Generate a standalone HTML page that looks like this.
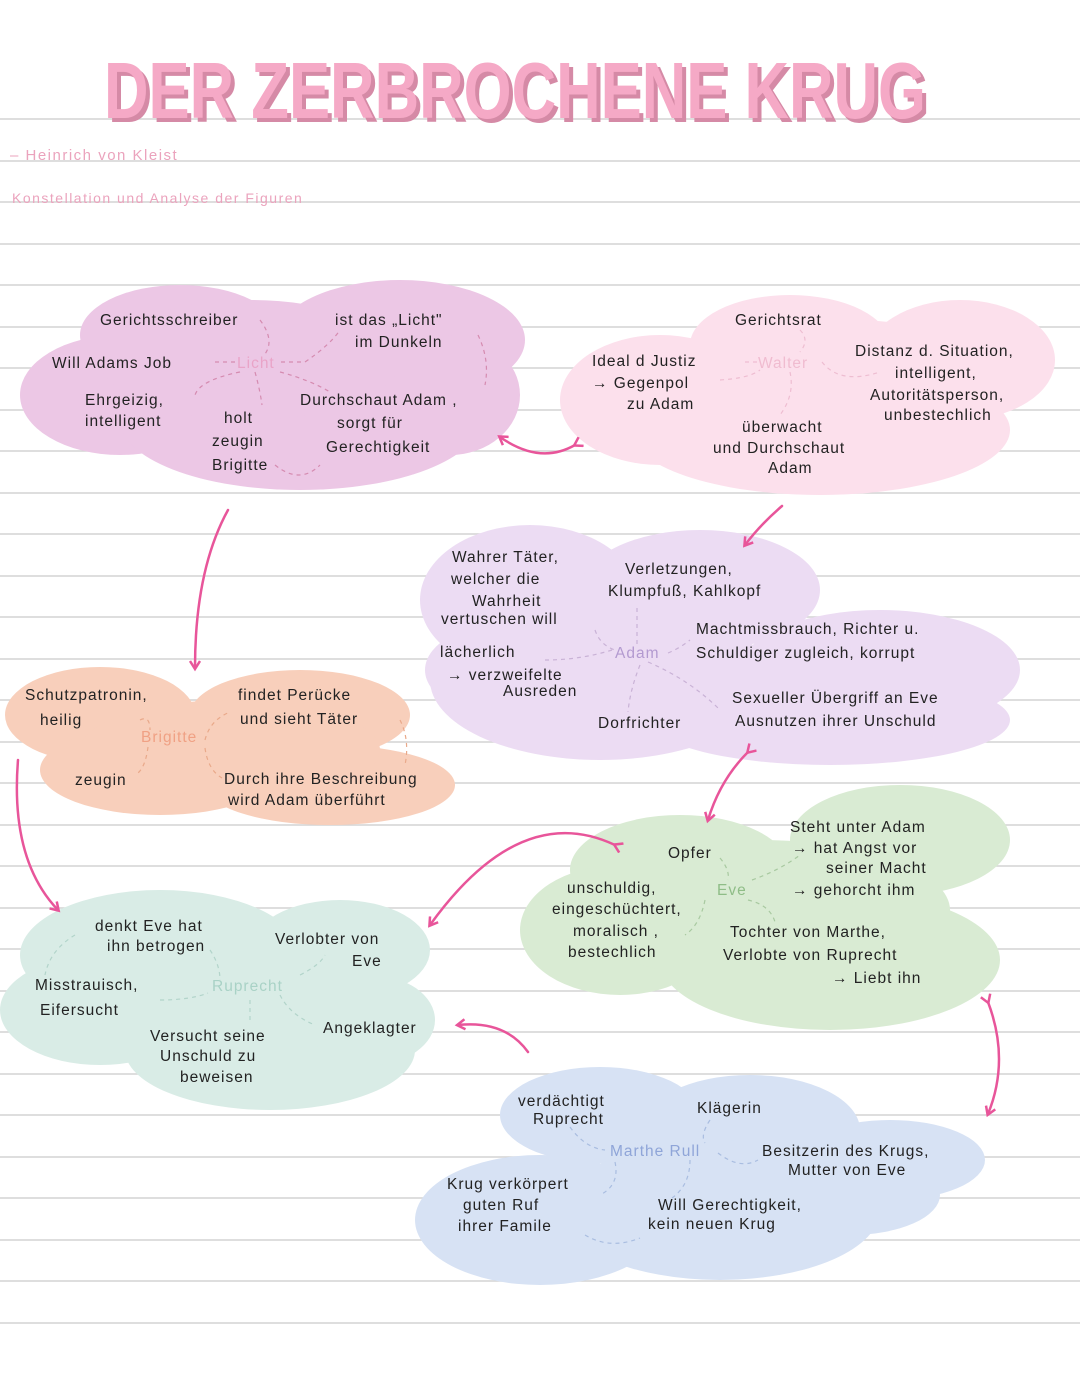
<!DOCTYPE html>
<html><head><meta charset="utf-8"><style>
html,body{margin:0;padding:0;background:#fff}
svg{display:block}
text{font-family:"Liberation Sans",sans-serif;font-size:15.5px;fill:#222;letter-spacing:1px}
</style></head><body>
<svg width="1080" height="1395" viewBox="0 0 1080 1395" xmlns="http://www.w3.org/2000/svg">
<defs>
<marker id="ah" markerWidth="12" markerHeight="12" refX="8" refY="6" orient="auto" markerUnits="userSpaceOnUse">
<path d="M1,1 L9,6 L1,11" fill="none" stroke="#e8559a" stroke-width="2.5"/>
</marker>
</defs>
<g stroke="#d4d4d4" stroke-width="1.5">
<line x1="0" x2="1080" y1="119" y2="119"/><line x1="0" x2="1080" y1="161" y2="161"/><line x1="0" x2="1080" y1="202" y2="202"/><line x1="0" x2="1080" y1="244" y2="244"/><line x1="0" x2="1080" y1="285" y2="285"/><line x1="0" x2="1080" y1="327" y2="327"/><line x1="0" x2="1080" y1="368" y2="368"/><line x1="0" x2="1080" y1="410" y2="410"/><line x1="0" x2="1080" y1="451" y2="451"/><line x1="0" x2="1080" y1="493" y2="493"/><line x1="0" x2="1080" y1="534" y2="534"/><line x1="0" x2="1080" y1="576" y2="576"/><line x1="0" x2="1080" y1="617" y2="617"/><line x1="0" x2="1080" y1="659" y2="659"/><line x1="0" x2="1080" y1="700" y2="700"/><line x1="0" x2="1080" y1="742" y2="742"/><line x1="0" x2="1080" y1="783" y2="783"/><line x1="0" x2="1080" y1="825" y2="825"/><line x1="0" x2="1080" y1="866" y2="866"/><line x1="0" x2="1080" y1="908" y2="908"/><line x1="0" x2="1080" y1="949" y2="949"/><line x1="0" x2="1080" y1="991" y2="991"/><line x1="0" x2="1080" y1="1032" y2="1032"/><line x1="0" x2="1080" y1="1074" y2="1074"/><line x1="0" x2="1080" y1="1115" y2="1115"/><line x1="0" x2="1080" y1="1157" y2="1157"/><line x1="0" x2="1080" y1="1198" y2="1198"/><line x1="0" x2="1080" y1="1240" y2="1240"/><line x1="0" x2="1080" y1="1281" y2="1281"/><line x1="0" x2="1080" y1="1323" y2="1323"/>
</g>
<text x="108" y="122" textLength="822" lengthAdjust="spacingAndGlyphs" style="font-size:80px;font-weight:bold;letter-spacing:0;fill:#d58aa6">DER ZERBROCHENE KRUG</text>
<text x="104" y="118" textLength="822" lengthAdjust="spacingAndGlyphs" style="font-size:80px;font-weight:bold;letter-spacing:0;fill:#f5a9c6">DER ZERBROCHENE KRUG</text>
<text x="10" y="160" style="fill:#eba3bd;font-size:15px;letter-spacing:1.5px">– Heinrich  von  Kleist</text>
<text x="12" y="203" style="fill:#eba3bd;font-size:14px;letter-spacing:1.5px">Konstellation  und  Analyse  der  Figuren</text>

<g fill="#ecc7e5">
<ellipse cx="180" cy="335" rx="100" ry="50"/><ellipse cx="400" cy="340" rx="125" ry="60"/><ellipse cx="120" cy="395" rx="100" ry="60"/><ellipse cx="300" cy="420" rx="180" ry="70"/><ellipse cx="450" cy="395" rx="70" ry="60"/><ellipse cx="250" cy="360" rx="150" ry="60"/>
</g>
<g fill="#fce0ec">
<ellipse cx="790" cy="345" rx="100" ry="50"/><ellipse cx="960" cy="360" rx="95" ry="60"/><ellipse cx="660" cy="400" rx="100" ry="65"/><ellipse cx="820" cy="430" rx="190" ry="65"/><ellipse cx="850" cy="380" rx="150" ry="60"/>
</g>
<g fill="#ecdcf3">
<ellipse cx="530" cy="600" rx="110" ry="75"/><ellipse cx="700" cy="590" rx="120" ry="60"/><ellipse cx="600" cy="680" rx="170" ry="80"/><ellipse cx="880" cy="670" rx="140" ry="60"/><ellipse cx="830" cy="720" rx="180" ry="45"/><ellipse cx="520" cy="670" rx="95" ry="50"/>
</g>
<g fill="#f8cfbb">
<ellipse cx="100" cy="715" rx="95" ry="48"/><ellipse cx="300" cy="715" rx="110" ry="45"/><ellipse cx="160" cy="770" rx="120" ry="45"/><ellipse cx="330" cy="785" rx="125" ry="40"/><ellipse cx="230" cy="750" rx="150" ry="50"/>
</g>
<g fill="#d9ece6">
<ellipse cx="160" cy="955" rx="140" ry="65"/><ellipse cx="340" cy="950" rx="90" ry="50"/><ellipse cx="100" cy="1010" rx="100" ry="55"/><ellipse cx="270" cy="1050" rx="145" ry="60"/><ellipse cx="370" cy="1020" rx="65" ry="45"/><ellipse cx="220" cy="990" rx="180" ry="60"/>
</g>
<g fill="#d9ebd3">
<ellipse cx="680" cy="870" rx="110" ry="55"/><ellipse cx="900" cy="840" rx="110" ry="55"/><ellipse cx="620" cy="930" rx="100" ry="65"/><ellipse cx="830" cy="960" rx="170" ry="70"/><ellipse cx="760" cy="910" rx="190" ry="70"/>
</g>
<g fill="#d7e2f4">
<ellipse cx="600" cy="1115" rx="100" ry="48"/><ellipse cx="750" cy="1130" rx="110" ry="55"/><ellipse cx="890" cy="1160" rx="95" ry="40"/><ellipse cx="540" cy="1220" rx="125" ry="65"/><ellipse cx="720" cy="1210" rx="160" ry="70"/><ellipse cx="850" cy="1195" rx="90" ry="40"/>
</g>

<g fill="none" stroke-dasharray="4,4" stroke-width="1.2">
<path d="M215 362 H236 M281 362 H305 Q330 345 340 330 M260 320 Q275 340 265 354 M255 372 Q260 390 262 405 M240 372 Q200 380 195 395 M280 372 Q310 380 330 392 M478 335 Q490 360 485 385 M275 465 Q300 485 320 465" stroke="#d58bb0"/>
<path d="M745 362 H758 M720 380 Q750 378 760 370 M822 362 Q840 385 880 372 M800 330 Q810 340 800 352 M790 372 Q795 395 780 415" stroke="#eebdd1"/>
<path d="M637 608 V645 M595 630 Q600 645 615 650 M545 660 Q580 660 612 650 M668 653 Q680 648 690 640 M640 665 Q630 690 628 712 M648 662 Q690 680 720 710" stroke="#c9b2d6"/>
<path d="M140 720 Q150 715 150 730 M148 747 Q145 770 135 775 M205 740 Q210 720 230 712 M205 748 Q208 770 222 778 M400 720 Q410 740 405 765" stroke="#e9a98a"/>
<path d="M75 935 Q50 950 45 975 M210 950 Q220 965 220 980 M160 1000 Q190 1000 208 993 M250 1000 V1020 M280 995 Q290 1015 315 1025 M300 975 Q320 965 325 955" stroke="#b2d4ca"/>
<path d="M720 858 Q730 870 728 880 M705 900 Q700 925 685 935 M752 880 Q780 870 800 855 M748 900 Q770 905 775 922" stroke="#a8c9a0"/>
<path d="M570 1127 Q585 1148 605 1150 M710 1120 Q700 1135 705 1143 M718 1153 Q740 1170 758 1160 M615 1162 Q620 1185 600 1195 M690 1160 Q690 1185 672 1198 M585 1235 Q610 1250 640 1238" stroke="#a9bde0"/>
</g>

<text x="237" y="368" style="fill:#e9a4c8">Licht</text>
<text x="758" y="368" style="fill:#f0bcd0">Walter</text>
<text x="615" y="658" style="fill:#b39ad0">Adam</text>
<text x="141" y="742" style="fill:#f0a184">Brigitte</text>
<text x="212" y="991" style="fill:#a9d2c6">Ruprecht</text>
<text x="717" y="895" style="fill:#8fbd87">Eve</text>
<text x="610" y="1156" style="fill:#8fa5d8">Marthe Rull</text>

<text x="100" y="325">Gerichtsschreiber</text>
<text x="52" y="368">Will  Adams  Job</text>
<text x="85" y="405">Ehrgeizig,</text>
<text x="85" y="426">intelligent</text>
<text x="224" y="423">holt</text>
<text x="212" y="446">zeugin</text>
<text x="212" y="470">Brigitte</text>
<text x="335" y="325">ist  das  „Licht"</text>
<text x="355" y="347">im Dunkeln</text>
<text x="300" y="405">Durchschaut Adam ,</text>
<text x="337" y="428">sorgt  für</text>
<text x="326" y="452">Gerechtigkeit</text>

<text x="735" y="325">Gerichtsrat</text>
<text x="592" y="366">Ideal  d  Justiz</text>
<text x="592" y="388">→ Gegenpol</text>
<text x="627" y="409">zu  Adam</text>
<text x="855" y="356">Distanz d. Situation,</text>
<text x="895" y="378">intelligent,</text>
<text x="870" y="400">Autoritätsperson,</text>
<text x="884" y="420">unbestechlich</text>
<text x="742" y="432">überwacht</text>
<text x="713" y="453">und  Durchschaut</text>
<text x="768" y="473">Adam</text>

<text x="452" y="562">Wahrer  Täter,</text>
<text x="451" y="584">welcher  die</text>
<text x="472" y="606">Wahrheit</text>
<text x="441" y="624">vertuschen  will</text>
<text x="440" y="657">lächerlich</text>
<text x="447" y="680">→ verzweifelte</text>
<text x="503" y="696">Ausreden</text>
<text x="625" y="574">Verletzungen,</text>
<text x="608" y="596">Klumpfuß, Kahlkopf</text>
<text x="696" y="634">Machtmissbrauch, Richter  u.</text>
<text x="696" y="658">Schuldiger zugleich, korrupt</text>
<text x="598" y="728">Dorfrichter</text>
<text x="732" y="703">Sexueller  Übergriff  an  Eve</text>
<text x="735" y="726">Ausnutzen  ihrer  Unschuld</text>

<text x="25" y="700">Schutzpatronin,</text>
<text x="40" y="725">heilig</text>
<text x="75" y="785">zeugin</text>
<text x="238" y="700">findet  Perücke</text>
<text x="240" y="724">und  sieht  Täter</text>
<text x="224" y="784">Durch  ihre  Beschreibung</text>
<text x="228" y="805">wird  Adam  überführt</text>

<text x="95" y="931">denkt  Eve  hat</text>
<text x="107" y="951">ihn  betrogen</text>
<text x="275" y="944">Verlobter  von</text>
<text x="352" y="966">Eve</text>
<text x="35" y="990">Misstrauisch,</text>
<text x="40" y="1015">Eifersucht</text>
<text x="150" y="1041">Versucht  seine</text>
<text x="160" y="1061">Unschuld  zu</text>
<text x="180" y="1082">beweisen</text>
<text x="323" y="1033">Angeklagter</text>

<text x="668" y="858">Opfer</text>
<text x="790" y="832">Steht  unter  Adam</text>
<text x="792" y="853">→ hat  Angst  vor</text>
<text x="826" y="873">seiner  Macht</text>
<text x="792" y="895">→ gehorcht  ihm</text>
<text x="567" y="893">unschuldig,</text>
<text x="552" y="914">eingeschüchtert,</text>
<text x="573" y="936">moralisch ,</text>
<text x="568" y="957">bestechlich</text>
<text x="730" y="937">Tochter  von  Marthe,</text>
<text x="723" y="960">Verlobte  von  Ruprecht</text>
<text x="832" y="983">→ Liebt  ihn</text>

<text x="518" y="1106">verdächtigt</text>
<text x="533" y="1124">Ruprecht</text>
<text x="697" y="1113">Klägerin</text>
<text x="762" y="1156">Besitzerin  des  Krugs,</text>
<text x="788" y="1175">Mutter  von  Eve</text>
<text x="447" y="1189">Krug  verkörpert</text>
<text x="463" y="1210">guten  Ruf</text>
<text x="458" y="1231">ihrer  Famile</text>
<text x="658" y="1210">Will  Gerechtigkeit,</text>
<text x="648" y="1229">kein  neuen  Krug</text>

<g fill="none" stroke="#e8559a" stroke-width="2.5" stroke-linecap="round">
<path d="M228 510 Q195 570 195 668" marker-end="url(#ah)"/>
<path d="M575 445 Q540 465 500 437" marker-end="url(#ah)" marker-start="url(#ah)"/>
<path d="M782 506 Q760 525 745 545" marker-end="url(#ah)"/>
<path d="M18 760 Q10 860 58 910" marker-end="url(#ah)"/>
<path d="M748 752 Q720 780 708 820" marker-end="url(#ah)" marker-start="url(#ah)"/>
<path d="M615 845 Q520 800 430 925" marker-end="url(#ah)" marker-start="url(#ah)"/>
<path d="M528 1052 Q505 1020 458 1025" marker-end="url(#ah)"/>
<path d="M988 1002 Q1010 1060 988 1114" marker-end="url(#ah)" marker-start="url(#ah)"/>
</g>
</svg>
</body></html>
